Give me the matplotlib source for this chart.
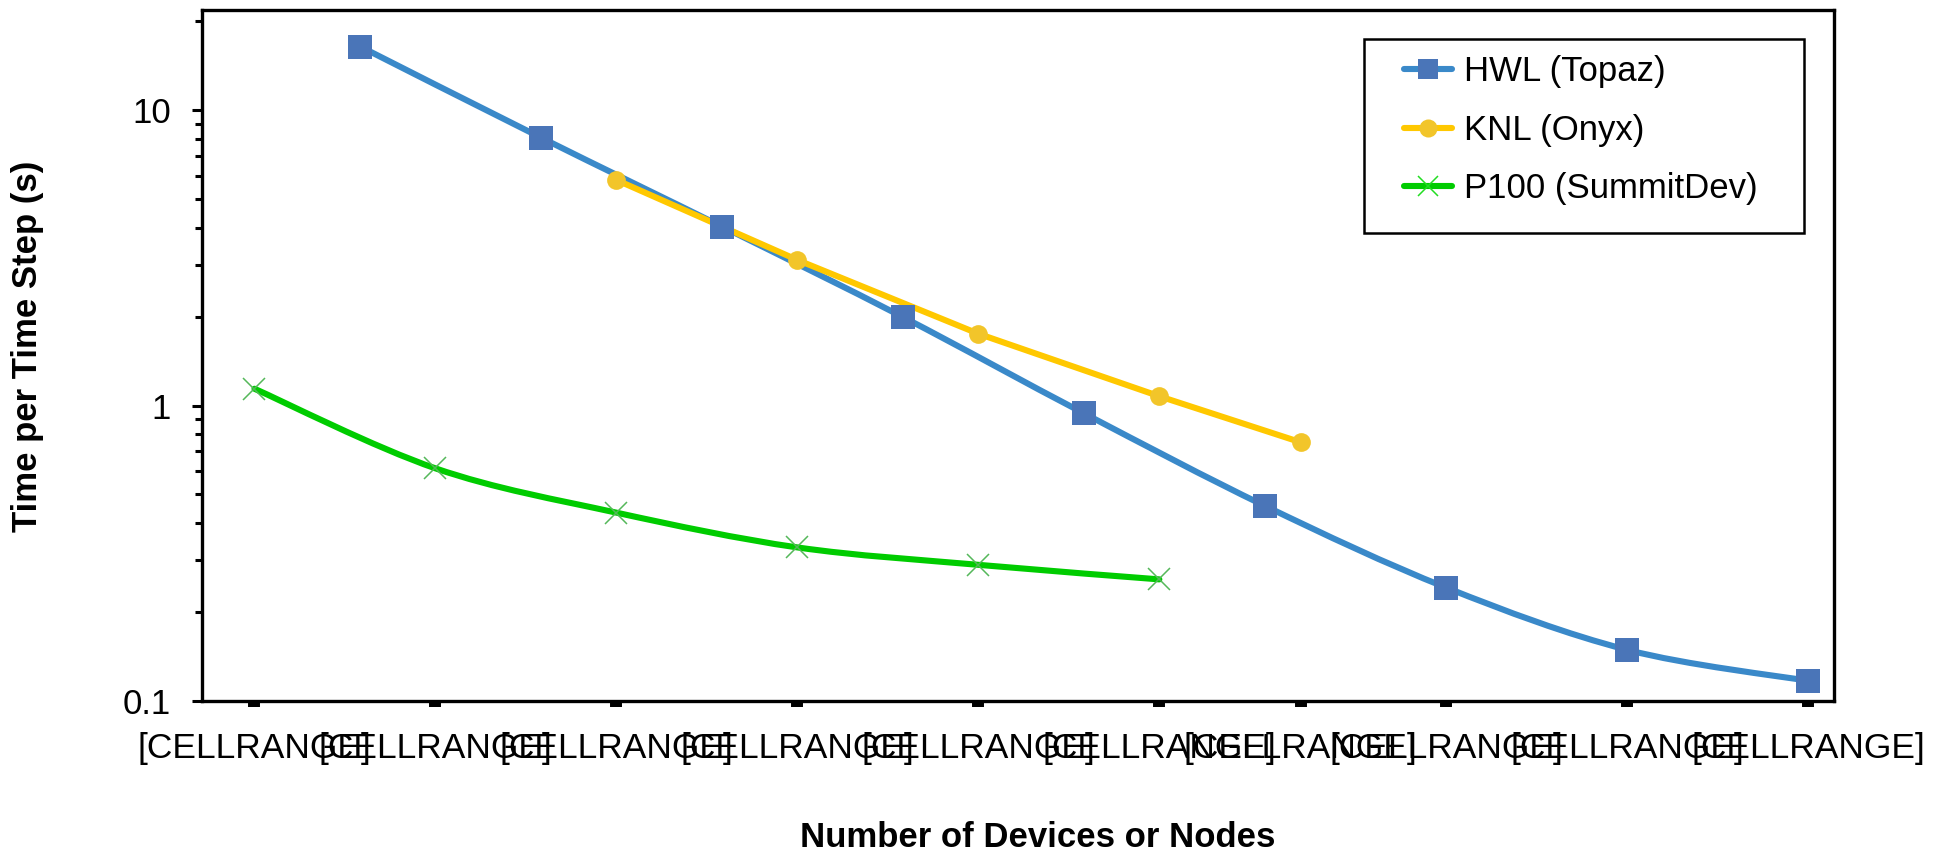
import numpy as np
import matplotlib
matplotlib.use("Agg")
import matplotlib.pyplot as plt
from matplotlib.path import Path
from matplotlib.patches import PathPatch, Rectangle
from matplotlib.lines import Line2D
from matplotlib.ticker import FixedLocator, NullLocator, LogLocator, NullFormatter, FixedFormatter

plt.rcParams['font.family'] = ['Liberation Sans', 'DejaVu Sans']

# ---- data -------------------------------------------------------------
hwl_x = [1.5, 3, 6, 12, 24, 48, 96, 192, 384]
hwl_y = [16.4, 8.06, 4.03, 1.99, 0.94, 0.457, 0.242, 0.149, 0.117]

knl_x = [4, 8, 16, 32, 55]
knl_y = [5.80, 3.11, 1.75, 1.075, 0.751]

p100_x = [1, 2, 4, 8, 16, 32]
p100_y = [1.14, 0.613, 0.434, 0.331, 0.289, 0.258]

tick_x = [1, 2, 4, 8, 16, 32, 55, 96, 192, 384]
tick_labels = ['[CELLRANGE]'] * len(tick_x)

series_names = ['HWL (Topaz)', 'KNL (Onyx)', 'P100 (SummitDev)']

# ---- figure -------------------------------------------------------------
W, H, DPI = 1934, 855, 100
fig = plt.figure(figsize=(W / DPI, H / DPI), dpi=DPI)

def px_box(l, t, r, b):
    return [l / W, 1 - b / H, (r - l) / W, (b - t) / H]

ax = fig.add_axes(px_box(202, 9.5, 1834, 701))
ax.set_xscale('log', base=2)
ax.set_yscale('log')
ax.set_xlim(0.818, 424)
ax.set_ylim(0.1, 21.9)


def smooth_path(x, y):
    """Catmull-Rom style Bezier through the points, built in log-log space."""
    lx, ly = np.log10(x), np.log10(y)
    n = len(lx)
    verts = [(lx[0], ly[0])]
    codes = [Path.MOVETO]
    for i in range(n - 1):
        a = i - 1 if i > 0 else i
        d = i + 2 if i + 2 < n else i + 1
        c1 = (lx[i] + (lx[i + 1] - lx[a]) / 6, ly[i] + (ly[i + 1] - ly[a]) / 6)
        c2 = (lx[i + 1] - (lx[d] - lx[i]) / 6, ly[i + 1] - (ly[d] - ly[i]) / 6)
        verts += [c1, c2, (lx[i + 1], ly[i + 1])]
        codes += [Path.CURVE4] * 3
    return Path(10 ** np.array(verts), codes)


LW = 4.4
blue_line, blue_mark = '#3A89C9', '#4A75B8'
gold_line, gold_mark = '#FFC800', '#F2C52A'
green_line, green_mark = '#00CC00', '#55B85A'

# HWL (smoothed)
ax.add_patch(PathPatch(smooth_path(hwl_x, hwl_y), fill=False, edgecolor=blue_line,
                       lw=LW, capstyle='round', joinstyle='round', zorder=3))
ax.plot(hwl_x, hwl_y, ls='none', marker='s', ms=17, mfc=blue_mark, mec=blue_mark,
        mew=0, zorder=4)

# KNL
ax.plot(knl_x, knl_y, color=gold_line, lw=LW, solid_capstyle='round', zorder=3)
ax.plot(knl_x, knl_y, ls='none', marker='o', ms=13.5, mfc=gold_mark, mec=gold_mark,
        mew=0, zorder=4)

# P100 (smoothed)
ax.add_patch(PathPatch(smooth_path(p100_x, p100_y), fill=False, edgecolor=green_line,
                       lw=LW, capstyle='round', joinstyle='round', zorder=3))
ax.plot(p100_x, p100_y, ls='none', marker='x', ms=16.5, mec=green_mark, mew=1.1,
        zorder=4)

# ---- axes styling -----------------------------------------------------
for s in ax.spines.values():
    s.set_linewidth(2.4)
    s.set_color('black')

ax.xaxis.set_major_locator(FixedLocator(tick_x))
ax.xaxis.set_major_formatter(FixedFormatter(tick_labels))
ax.xaxis.set_minor_locator(NullLocator())
ax.tick_params(axis='x', which='major', direction='out', length=4.2, width=8.6,
               pad=18, labelsize=25.5, colors='black')

ax.yaxis.set_major_locator(FixedLocator([0.1, 1, 10]))
ax.yaxis.set_major_formatter(FixedFormatter(['0.1', '1', '10']))
ax.yaxis.set_minor_locator(LogLocator(base=10, subs=np.arange(2, 10), numticks=20))
ax.yaxis.set_minor_formatter(NullFormatter())
ax.tick_params(axis='y', which='major', direction='out', length=7.2, width=2.2,
               pad=15, labelsize=25)
ax.tick_params(axis='y', which='minor', direction='out', length=5.0, width=2.2)

# axis titles
fig.text(28 / W, 1 - 346 / H, 'Time per Time Step (s)', rotation=90, ha='center',
         va='center', fontsize=25, fontweight='bold')
fig.text(1038 / W, 1 - 847 / H, 'Number of Devices or Nodes', ha='center',
         va='baseline', fontsize=25, fontweight='bold')

# ---- legend -----------------------------------------------------------
handles = [
    Line2D([], [], color=blue_line, lw=LW, solid_capstyle='round', marker='s', ms=15,
           mfc=blue_mark, mec=blue_mark, mew=0),
    Line2D([], [], color=gold_line, lw=LW, solid_capstyle='round', marker='o', ms=13,
           mfc=gold_mark, mec=gold_mark, mew=0),
    Line2D([], [], color=green_line, lw=LW, solid_capstyle='round', marker='x', ms=15,
           mec='#22DD22', mew=1.1),
]
leg = ax.legend(handles, series_names, loc='upper left', frameon=False,
                bbox_to_anchor=(1404 / W, 1 - 55 / H), bbox_transform=fig.transFigure,
                fontsize=25, handlelength=1.38, handletextpad=0.34, labelspacing=0.74,
                borderpad=0, borderaxespad=0)
fig.add_artist(Rectangle((1363.5 / W, 1 - 233 / H), (1804 - 1363.5) / W, (233 - 39) / H,
                         transform=fig.transFigure, fill=False, edgecolor='black',
                         lw=1.8, zorder=5))

fig.savefig('out.png', dpi=DPI)
